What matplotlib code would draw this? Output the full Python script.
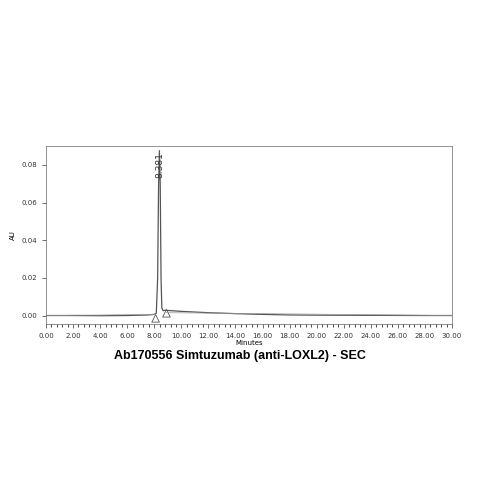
import matplotlib
matplotlib.use("Agg")
import matplotlib.pyplot as plt
import numpy as np
from matplotlib.ticker import MultipleLocator

t = [0, 2, 4, 6, 7.5, 8.0, 8.15, 8.25, 8.32, 8.381, 8.44, 8.5, 8.56, 8.65, 8.8, 9.2, 10, 12, 14, 16, 18, 20, 24, 28, 30]
au = [0.0, 0.0, -0.0001, 0.0, 0.0003, 0.0006, 0.0012, 0.02, 0.07, 0.0875, 0.07, 0.02, 0.004, 0.0026, 0.0028, 0.0026, 0.0022, 0.0015, 0.001, 0.0006, 0.0003, 0.0002, 0.0001, 0.0, 0.0]
peak_rt = 8.381
tri_t = [8.1, 8.9]
tri_y = [-0.0015, 0.0012]

fig = plt.figure(figsize=(4.79, 4.79), dpi=100)
ax = fig.add_axes([46/479, 1-324/479, (452-46)/479, (324-146)/479])
ax.plot(t, au, color="#555555", lw=0.9)
ax.plot([0, 8.1], [0, 0.0006], color="#999999", lw=0.5)
ax.plot([8.9, 30], [0.0015, 0.0], color="#999999", lw=0.5)
ax.scatter(tri_t, tri_y, marker="^", facecolors="none", edgecolors="#555555", s=30, lw=0.6)
ax.text(peak_rt, 0.0865, f"{peak_rt:.3f}", rotation=90, ha="center", va="top", fontsize=6.5, color="#333333")
ax.set_xlim(0, 30)
ax.set_ylim(-0.0045, 0.09)
ax.set_xticks(np.arange(0, 31, 2))
ax.set_xticklabels([f"{v:.2f}" for v in np.arange(0, 31, 2)])
ax.xaxis.set_minor_locator(MultipleLocator(0.4))
ax.set_yticks([0, 0.02, 0.04, 0.06, 0.08])
ax.set_yticklabels(["0.00", "0.02", "0.04", "0.06", "0.08"])
ax.tick_params(labelsize=5, length=3, width=0.5, colors="#333333")
ax.tick_params(which="minor", length=2, width=0.5)
for s in ax.spines.values():
    s.set_linewidth(0.5)
    s.set_color("#666666")
ax.set_xlabel("Minutes", fontsize=5, labelpad=1)
ax.set_ylabel("AU", fontsize=5, labelpad=4)
fig.text(0.5, 1-356/479, "Ab170556 Simtuzumab (anti-LOXL2) - SEC", ha="center", va="center",
         fontsize=9, fontweight="bold", family="Liberation Sans")
fig.savefig("out.png", dpi=100)
